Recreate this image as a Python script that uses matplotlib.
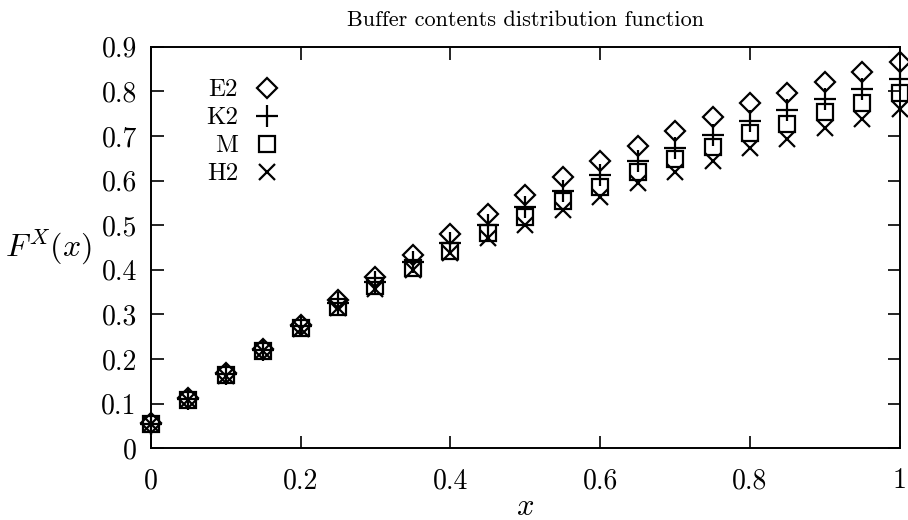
import matplotlib
matplotlib.use("Agg")
import matplotlib.pyplot as plt

# Valores
x = [0.0, 0.05, 0.1, 0.15, 0.2, 0.25, 0.3, 0.35, 0.4, 0.45, 0.5,
     0.55, 0.6, 0.65, 0.7, 0.75, 0.8, 0.85, 0.9, 0.95, 1.0]
e2 = [0.056, 0.112, 0.168, 0.223, 0.277, 0.333, 0.384, 0.434, 0.481, 0.525, 0.568,
      0.607, 0.644, 0.678, 0.712, 0.742, 0.773, 0.796, 0.820, 0.843, 0.865]
k2 = [0.055, 0.110, 0.166, 0.220, 0.273, 0.325, 0.372, 0.418, 0.461, 0.500, 0.540,
      0.576, 0.612, 0.643, 0.674, 0.703, 0.733, 0.759, 0.782, 0.806, 0.828]
m = [0.054, 0.109, 0.164, 0.218, 0.269, 0.317, 0.364, 0.404, 0.442, 0.482, 0.518,
     0.554, 0.585, 0.619, 0.648, 0.675, 0.706, 0.728, 0.753, 0.775, 0.797]
h2 = [0.054, 0.108, 0.163, 0.217, 0.268, 0.315, 0.358, 0.400, 0.437, 0.471, 0.500,
      0.534, 0.563, 0.594, 0.619, 0.643, 0.672, 0.694, 0.719, 0.739, 0.761]

plt.rcParams["font.family"] = ["cmr10", "DejaVu Serif"]
plt.rcParams["mathtext.fontset"] = "cm"
plt.rcParams["axes.formatter.use_mathtext"] = True

fig = plt.figure(figsize=(9.08, 5.2), dpi=100)
ax = fig.add_axes([0.166, 0.138, 0.825, 0.772])

kw = dict(linestyle="none", color="black", markerfacecolor="none",
          markeredgewidth=1.6, clip_on=False)
ax.plot(x, e2, marker="D", markersize=10, label="E2", **kw)
ax.plot(x, k2, marker="+", markersize=16, label="K2", **kw)
ax.plot(x, m, marker="s", markersize=12, label="M", **kw)
ax.plot(x, h2, marker="x", markersize=11, label="H2", **kw)

ax.set_xlim(0, 1)
ax.set_ylim(0, 0.9)
ax.set_xticks([0, 0.2, 0.4, 0.6, 0.8, 1])
ax.set_xticklabels(["0", "0.2", "0.4", "0.6", "0.8", "1"])
ax.set_yticks([i / 10 for i in range(10)])
ax.set_yticklabels(["0"] + ["0.%d" % i for i in range(1, 10)])
ax.tick_params(direction="in", length=9, width=1.2, labelsize=20, top=True, right=True)
ax.tick_params(axis="x", pad=14)
ax.tick_params(axis="y", pad=10)
for s in ax.spines.values():
    s.set_linewidth(1.4)

ax.set_title("Buffer contents distribution function", fontsize=16, pad=15)
ax.set_xlabel("$x$", fontsize=22, labelpad=0)
ax.set_ylabel("$F^X(x)$", fontsize=23, rotation=0, labelpad=38, va="center")

ax.legend(loc="upper left", frameon=False, markerfirst=False, fontsize=18,
          handlelength=1.2, handletextpad=0.55, labelspacing=0.22,
          borderpad=0, borderaxespad=0, bbox_to_anchor=(0.074, 0.92))

fig.savefig("out.png", dpi=100)
